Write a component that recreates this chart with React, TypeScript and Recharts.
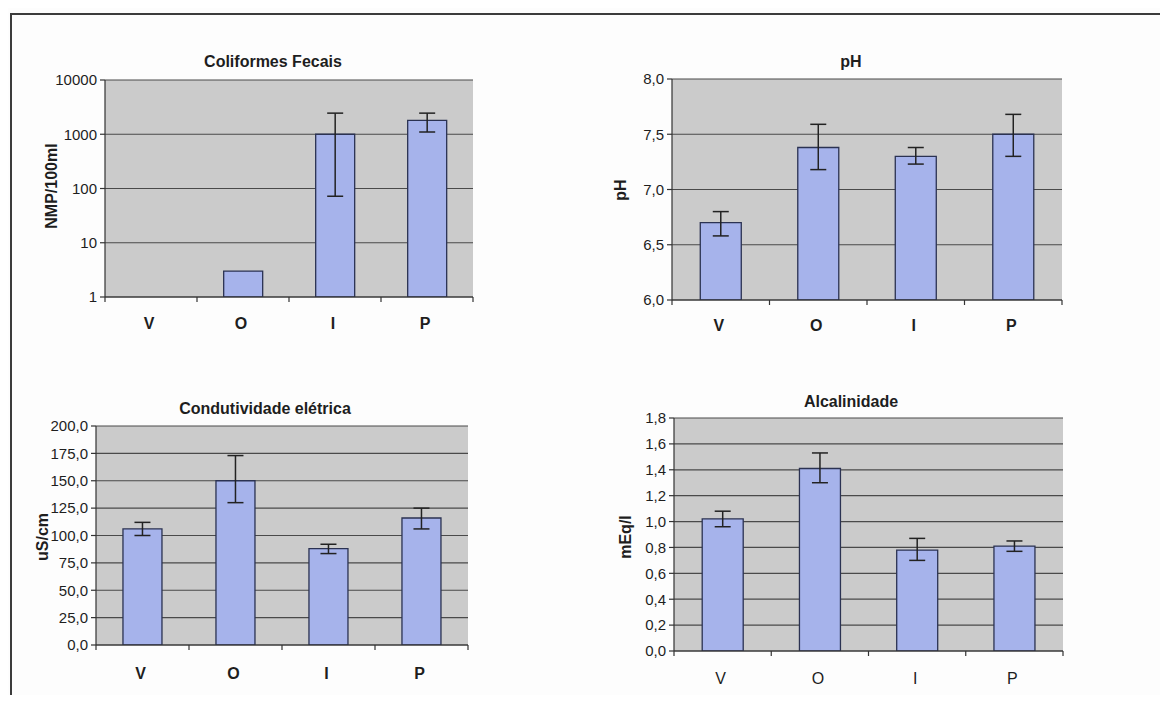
import React from 'react';
import { BarChart, Bar, XAxis, YAxis, CartesianGrid, ErrorBar } from 'recharts';

// categories shared by the four panels
const categories = ['V', 'O', 'I', 'P'];

// Coliformes Fecais (NMP/100ml, log scale)
const coliformesMean = [null, 3, 1000, 1800];
const coliformesLow = [null, null, 72, 1100];
const coliformesHigh = [null, null, 2450, 2450];
const coliformesTicks = [1, 10, 100, 1000, 10000];

// pH
const phMean = [6.7, 7.38, 7.3, 7.5];
const phLow = [6.58, 7.18, 7.23, 7.3];
const phHigh = [6.8, 7.59, 7.38, 7.68];
const phTicks = [6, 6.5, 7, 7.5, 8];

// Condutividade elétrica (uS/cm)
const condMean = [106, 150, 88, 116];
const condLow = [100, 130, 83.5, 106];
const condHigh = [112, 173, 92, 125];
const condTicks = [0, 25, 50, 75, 100, 125, 150, 175, 200];

// Alcalinidade (mEq/l)
const alcMean = [1.02, 1.41, 0.78, 0.81];
const alcLow = [0.96, 1.3, 0.7, 0.77];
const alcHigh = [1.08, 1.53, 0.87, 0.85];
const alcTicks = [0, 0.2, 0.4, 0.6, 0.8, 1.0, 1.2, 1.4, 1.6, 1.8];

const FONT = '"Liberation Sans", Arial, sans-serif';
const TEXT = '#1e1e1e';
const YW = 60;
const XH = 30;

type Row = { cat: string; value: number | null; err: number[] | null };

function buildRows(mean: (number | null)[], low: (number | null)[], high: (number | null)[]): Row[] {
  return categories.map((cat, i) => {
    const v = mean[i];
    const lo = low[i];
    const hi = high[i];
    return {
      cat,
      value: v,
      err: v != null && lo != null && hi != null ? [v - lo, hi - v] : null,
    };
  });
}

const commaFmt = (digits: number) => (v: number) => v.toFixed(digits).replace('.', ',');

interface PanelProps {
  rows: Row[];
  ticks: number[];
  log?: boolean;
  digits: number;
  title: string;
  yLabel: string;
  box: { x: number; y: number; w: number; h: number };
  plot: { x0: number; x1: number; y0: number; y1: number };
  titleAt: [number, number];
  yLabelAt: [number, number];
  catY: number;
  catWeight?: string;
}

function Panel(p: PanelProps) {
  const { box, plot } = p;
  const margin = {
    left: plot.x0 - box.x - YW,
    right: box.x + box.w - plot.x1,
    top: plot.y0 - box.y,
    bottom: box.y + box.h - plot.y1 - XH,
  };
  const bottomRel = plot.y1 - box.y;
  const band = (plot.x1 - plot.x0) / categories.length;

  const CatTick = (props: any) => {
    const { x, payload, index } = props;
    return (
      <g>
        <line x1={x - band / 2} x2={x - band / 2} y1={bottomRel} y2={bottomRel + 5} stroke="#333" strokeWidth={1.2} />
        {index === categories.length - 1 && (
          <line x1={x + band / 2} x2={x + band / 2} y1={bottomRel} y2={bottomRel + 5} stroke="#333" strokeWidth={1.2} />
        )}
        <text
          x={x - 2}
          y={p.catY - box.y}
          textAnchor="middle"
          dominantBaseline="central"
          fontFamily={FONT}
          fontSize={16}
          fontWeight={p.catWeight || 'bold'}
          fill={TEXT}
        >
          {payload.value}
        </text>
      </g>
    );
  };

  const domain: [number, number] = [p.ticks[0], p.ticks[p.ticks.length - 1]];

  return (
    <>
      <div style={{ position: 'absolute', left: box.x, top: box.y }}>
        <BarChart width={box.w} height={box.h} data={p.rows} margin={margin} barCategoryGap="29%">
          <CartesianGrid vertical={false} stroke="#4a4a4a" strokeWidth={1.2} fill="#cbcbcb" fillOpacity={1} />
          <XAxis
            dataKey="cat"
            height={XH}
            axisLine={{ stroke: '#333', strokeWidth: 1.2 }}
            tickLine={false}
            tick={<CatTick />}
            interval={0}
          />
          <YAxis
            width={YW}
            scale={p.log ? 'log' : 'auto'}
            type="number"
            domain={domain}
            ticks={p.ticks}
            allowDataOverflow
            interval={0}
            tickFormatter={p.log ? (v: number) => String(v) : commaFmt(p.digits)}
            axisLine={{ stroke: '#333', strokeWidth: 1.2 }}
            tickLine={{ stroke: '#333', strokeWidth: 1.2 }}
            tickSize={5}
            tickMargin={3}
            tick={{ fill: TEXT, fontSize: 15, fontFamily: FONT }}
          />
          <Bar dataKey="value" fill="#a6b3eb" stroke="#2b3252" strokeWidth={1.3} isAnimationActive={false}>
            <ErrorBar dataKey="err" width={8} stroke="#222" strokeWidth={1.5} direction="y" />
          </Bar>
        </BarChart>
      </div>
      <div
        style={{
          position: 'absolute',
          left: p.titleAt[0],
          top: p.titleAt[1],
          transform: 'translate(-50%, -50%)',
          whiteSpace: 'nowrap',
          fontFamily: FONT,
          fontWeight: 'bold',
          fontSize: 16,
          color: TEXT,
        }}
      >
        {p.title}
      </div>
      <div
        style={{
          position: 'absolute',
          left: p.yLabelAt[0],
          top: p.yLabelAt[1],
          transform: 'translate(-50%, -50%) rotate(-90deg)',
          whiteSpace: 'nowrap',
          fontFamily: FONT,
          fontWeight: 'bold',
          fontSize: 16,
          color: TEXT,
        }}
      >
        {p.yLabel}
      </div>
    </>
  );
}

export default function App() {
  return (
    <div style={{ position: 'relative', width: 1168, height: 703, margin: -8, background: '#fdfdfd', overflow: 'hidden' }}>
      <div
        style={{
          position: 'absolute',
          left: 10,
          top: 13,
          width: 1170,
          height: 700,
          borderTop: '2px solid #3c3c3c',
          borderLeft: '2px solid #3c3c3c',
        }}
      />
      <Panel
        rows={buildRows(coliformesMean, coliformesLow, coliformesHigh)}
        ticks={coliformesTicks}
        log
        digits={0}
        title="Coliformes Fecais"
        yLabel="NMP/100ml"
        box={{ x: 0, y: 40, w: 520, h: 300 }}
        plot={{ x0: 105, x1: 473, y0: 80, y1: 297 }}
        titleAt={[273, 62]}
        yLabelAt={[52, 186]}
        catY={323}
      />
      <Panel
        rows={buildRows(phMean, phLow, phHigh)}
        ticks={phTicks}
        digits={1}
        title="pH"
        yLabel="pH"
        box={{ x: 584, y: 40, w: 520, h: 300 }}
        plot={{ x0: 672, x1: 1062, y0: 79, y1: 300 }}
        titleAt={[851, 62]}
        yLabelAt={[621, 190]}
        catY={325}
      />
      <Panel
        rows={buildRows(condMean, condLow, condHigh)}
        ticks={condTicks}
        digits={1}
        title="Condutividade elétrica"
        yLabel="uS/cm"
        box={{ x: 0, y: 380, w: 520, h: 323 }}
        plot={{ x0: 96, x1: 468, y0: 426, y1: 645 }}
        titleAt={[265, 409]}
        yLabelAt={[43, 537]}
        catY={673}
      />
      <Panel
        rows={buildRows(alcMean, alcLow, alcHigh)}
        ticks={alcTicks}
        digits={1}
        title="Alcalinidade"
        yLabel="mEq/l"
        box={{ x: 584, y: 380, w: 520, h: 323 }}
        plot={{ x0: 674, x1: 1063, y0: 418, y1: 651 }}
        titleAt={[851, 402]}
        yLabelAt={[626, 537]}
        catY={678}
        catWeight="normal"
      />
    </div>
  );
}
